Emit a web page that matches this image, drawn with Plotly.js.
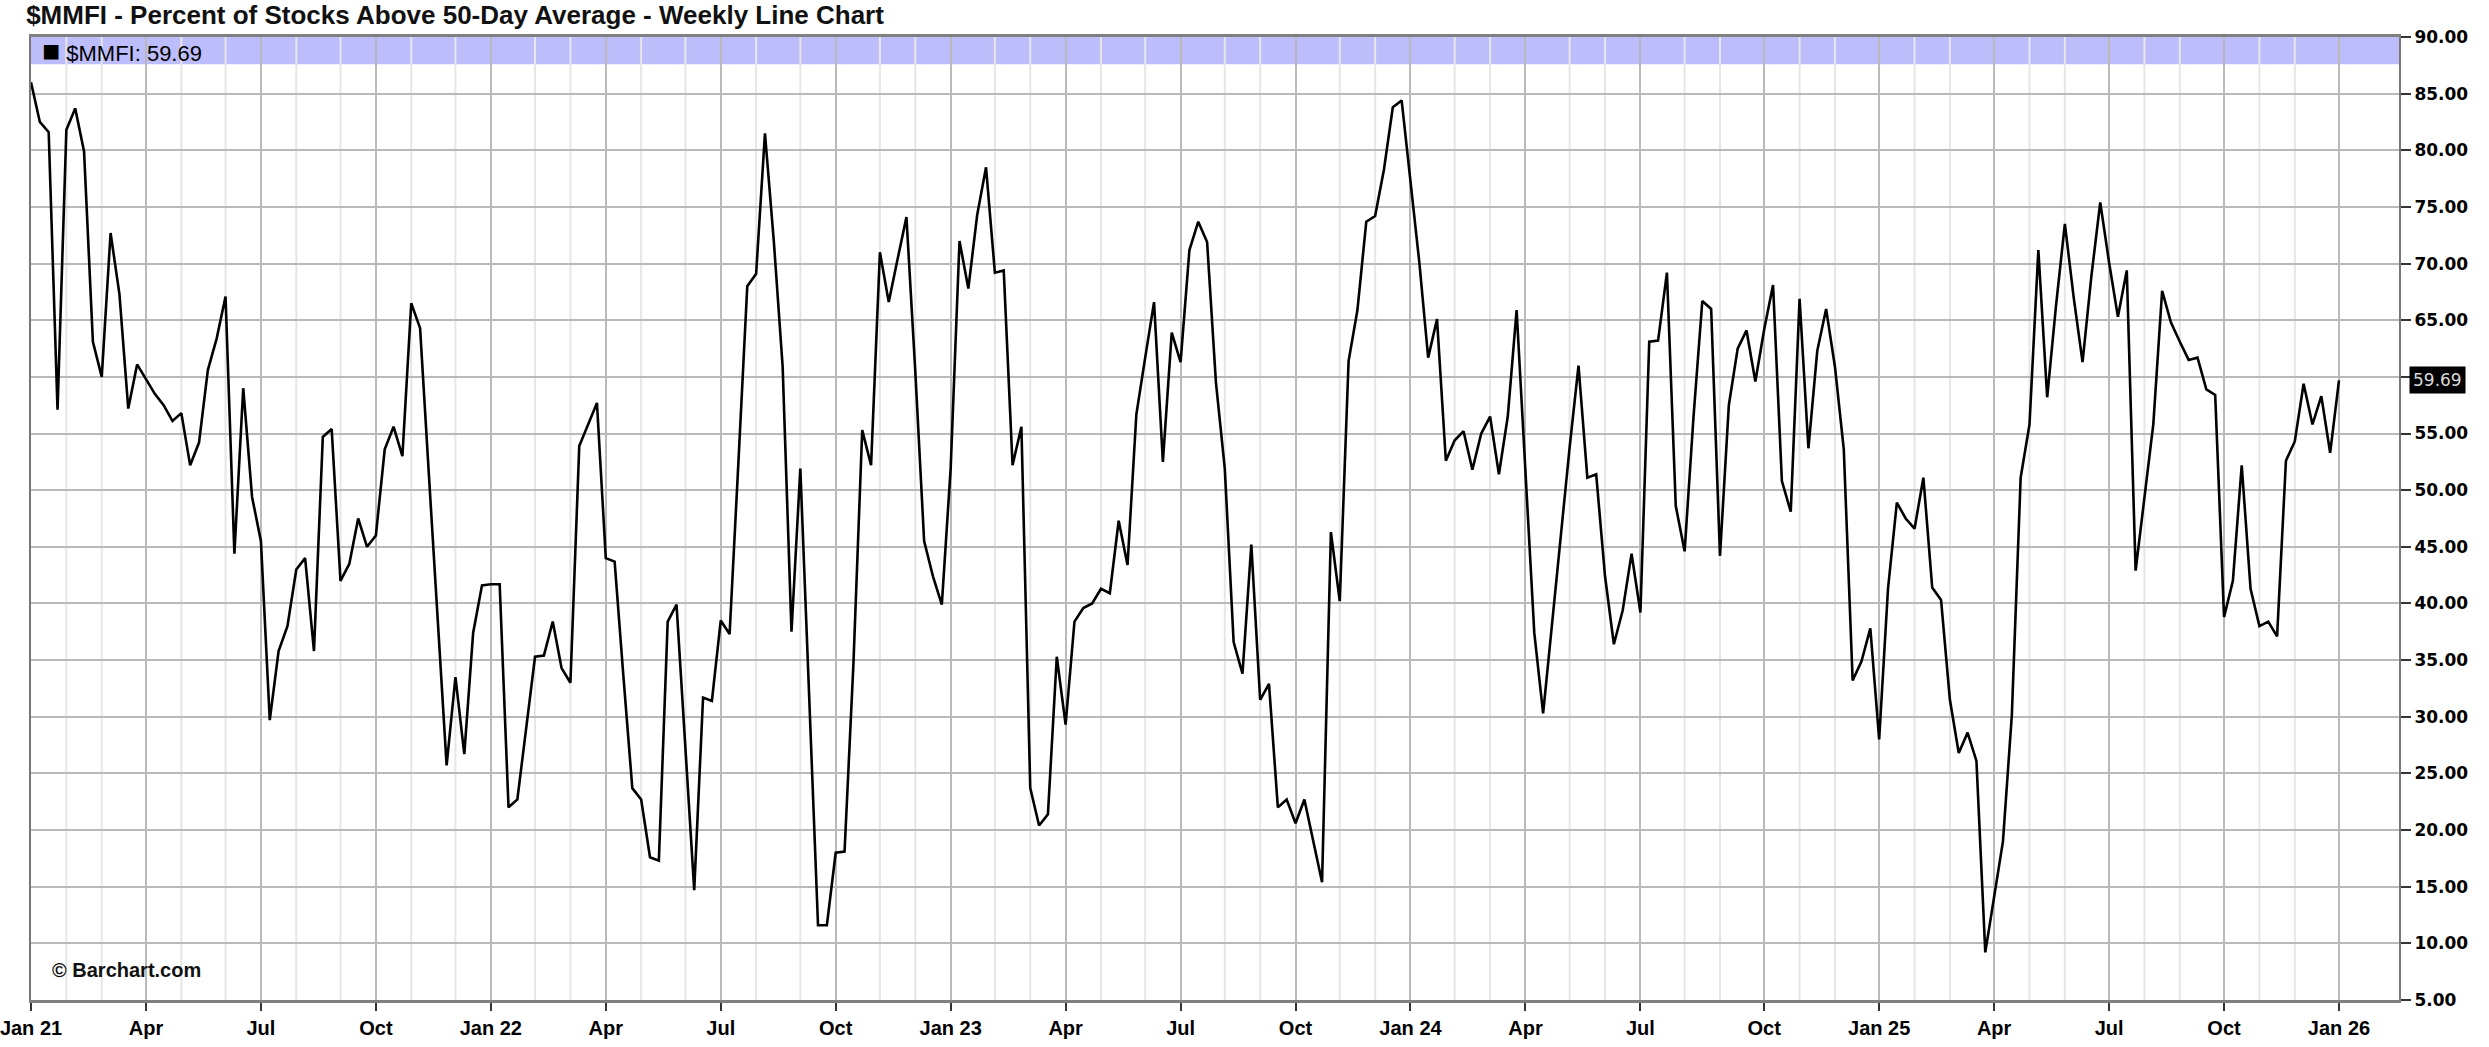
<!DOCTYPE html>
<html>
<head>
<meta charset="utf-8">
<script src="https://cdn.plot.ly/plotly-3.0.1.min.js"></script>
<style>
html,body{margin:0;padding:0;background:#fff;}
#chart{width:2489px;height:1047px;}
</style>
</head>
<body>
<div id="chart"></div>
<script>
// Weekly $MMFI readings (percent of stocks above 50-day average), first week Jan 2021 to first week Jan 2026
const startDate = '2021-01-04';
const mmfiValues = [
86.0,82.5,81.6,57.1,81.8,83.7,79.9,63.1,60.0,72.7,
67.3,57.2,61.1,59.8,58.5,57.5,56.1,56.8,52.2,54.2,
60.6,63.4,67.1,44.4,59.0,49.4,45.5,29.7,35.8,38.0,
43.0,44.0,35.8,54.7,55.4,42.0,43.5,47.5,45.0,46.0,
53.6,55.6,53.0,66.5,64.3,51.3,38.7,25.7,33.5,26.7,
37.4,41.6,41.7,41.7,22.0,22.7,29.0,35.3,35.4,38.4,
34.3,33.0,53.9,55.8,57.7,44.0,43.7,33.5,23.7,22.7,
17.6,17.3,38.4,39.9,27.3,14.7,31.7,31.4,38.5,37.3,
52.5,68.0,69.1,81.5,72.0,60.9,37.5,51.9,31.8,11.6,
11.6,18.0,18.1,34.6,55.3,52.2,71.0,66.6,70.4,74.1,
60.5,45.5,42.4,39.9,51.9,72.0,67.8,74.3,78.5,69.2,
69.4,52.2,55.6,23.7,20.4,21.4,35.3,29.3,38.4,39.6,
40.0,41.3,40.9,47.3,43.4,56.7,61.7,66.6,52.5,63.9,
61.3,71.2,73.7,71.9,59.5,51.9,36.6,33.8,45.2,31.5,
32.9,22.0,22.7,20.6,22.7,19.0,15.4,46.3,40.2,61.4,
65.9,73.7,74.2,78.3,83.8,84.4,77.1,70.1,61.7,65.1,
52.6,54.4,55.2,51.8,55.0,56.5,51.4,56.5,65.9,51.4,
37.4,30.3,38.3,46.1,53.8,61.0,51.1,51.4,42.4,36.4,
39.4,44.4,39.2,63.1,63.2,69.2,48.6,44.6,56.4,66.7,
66.0,44.2,57.5,62.5,64.1,59.6,64.2,68.1,50.8,48.1,
66.9,53.7,62.3,66.0,60.9,53.6,33.2,34.9,37.8,28.0,
41.3,48.9,47.5,46.6,51.1,41.4,40.3,31.5,26.8,28.6,
26.1,9.2,14.2,19.0,30.1,51.1,55.8,71.2,58.2,66.3,
73.5,67.0,61.3,68.9,75.4,70.1,65.3,69.4,42.9,49.4,
55.8,67.6,64.8,63.1,61.5,61.7,58.9,58.4,38.8,42.0,
52.2,41.3,38.0,38.4,37.1,52.6,54.3,59.4,55.8,58.3,
53.3,59.69
];
const monthNames = ['Jan','Feb','Mar','Apr','May','Jun','Jul','Aug','Sep','Oct','Nov','Dec'];
const quarterMonths = [0,3,6,9];
const yTicks = [5,10,15,20,25,30,35,40,45,50,55,60,65,70,75,80,85,90];

const DAY = 86400000;
const t0 = Date.parse(startDate + 'T00:00:00Z');
const fmt = ms => new Date(ms).toISOString().slice(0,10);
const weekDates = mmfiValues.map((v,i) => fmt(t0 + i*7*DAY));

// first bar of each month -> ticks / gridlines
const tickVals = [], tickText = [], monthFirst = [];
let prevKey = null;
weekDates.forEach(d => {
  const y = +d.slice(0,4), m = +d.slice(5,7) - 1;
  const key = y*12 + m;
  if (key !== prevKey) {
    prevKey = key;
    if (quarterMonths.includes(m)) {
      tickVals.push(d);
      tickText.push(m === 0 ? 'Jan ' + String(y).slice(2) : monthNames[m]);
    } else {
      monthFirst.push(d);
    }
  }
});

const lastVal = mmfiValues[mmfiValues.length-1];
const lastMs = t0 + (mmfiValues.length-1)*7*DAY;
const xEnd = new Date(lastMs + 47.5*DAY).toISOString().replace('T',' ').slice(0,19);

// the last-value badge sits over the nearest price label, as in the source
const nearest = yTicks.reduce((a,b) => Math.abs(b-lastVal) < Math.abs(a-lastVal) ? b : a);
const yTickText = yTicks.map(v => v === nearest ? '' : v.toFixed(2));

const SANS = '"Liberation Sans", Arial, sans-serif';
const WIDE = '"DejaVu Sans", Verdana, sans-serif';

const shapes = [
  {type:'rect', xref:'paper', yref:'y', x0:0, x1:1, y0:87.6, y1:90, fillcolor:'#bdbdfc', line:{width:0}, layer:'below'}
];
monthFirst.forEach(d => shapes.push({
  type:'line', xref:'x', yref:'paper', x0:d, x1:d, y0:0, y1:1,
  line:{color:'#e6e6e6', width:2}, layer:'below'
}));

const trace = {
  x: weekDates, y: mmfiValues, type:'scatter', mode:'lines',
  line:{color:'#000', width:2.6}, hoverinfo:'x+y'
};

const layout = {
  width:2489, height:1047,
  margin:{l:31, r:90, t:37, b:47, pad:0},
  paper_bgcolor:'#fff', plot_bgcolor:'#fff',
  showlegend:false,
  title:{
    text:'$MMFI - Percent of Stocks Above 50-Day Average - Weekly Line Chart',
    xref:'container', yref:'container', x:0.0105, xanchor:'left', y:0.994, yanchor:'top',
    font:{family:SANS, size:26, color:'#111', weight:'bold'}
  },
  xaxis:{
    type:'date', range:[weekDates[0], xEnd],
    tickmode:'array', tickvals:tickVals, ticktext:tickText,
    ticks:'outside', ticklen:8, tickwidth:2, tickcolor:'#333',
    ticklabeloverflow:'allow',
    tickfont:{family:SANS, size:20, color:'#000', weight:'bold'},
    showgrid:true, gridcolor:'#b9b9b9', gridwidth:2,
    showline:true, linecolor:'#808080', linewidth:3, mirror:true,
    zeroline:false, fixedrange:true
  },
  yaxis:{
    side:'right', range:[5,90],
    tickmode:'array', tickvals:yTicks, ticktext:yTickText,
    ticks:'outside', ticklen:10, tickwidth:2, tickcolor:'#333',
    tickfont:{family:WIDE, size:17, color:'#000', weight:'bold'},
    showgrid:true, gridcolor:'#b9b9b9', gridwidth:2,
    showline:true, linecolor:'#777', linewidth:2, mirror:true,
    zeroline:false, fixedrange:true
  },
  shapes: shapes,
  annotations:[
    {xref:'paper', yref:'y', x:0.004, y:88.8, xanchor:'left', yanchor:'middle', showarrow:false,
     text:'<span style="font-size:30px">■</span> $MMFI: ' + lastVal.toFixed(2),
     font:{family:SANS, size:22, color:'#000'}},
    {xref:'paper', yref:'paper', x:0.008, y:0.018, xanchor:'left', yanchor:'bottom', showarrow:false,
     text:'© Barchart.com', font:{family:SANS, size:20, color:'#111', weight:'bold'}},
    {xref:'paper', yref:'y', x:1, xshift:10, y:lastVal, xanchor:'left', yanchor:'middle', showarrow:false,
     text:lastVal.toFixed(2), bgcolor:'#000', borderpad:3,
     font:{family:WIDE, size:17, color:'#d8d8d8'}}
  ]
};

Plotly.newPlot('chart', [trace], layout, {staticPlot:true, displayModeBar:false});
</script>
</body>
</html>
